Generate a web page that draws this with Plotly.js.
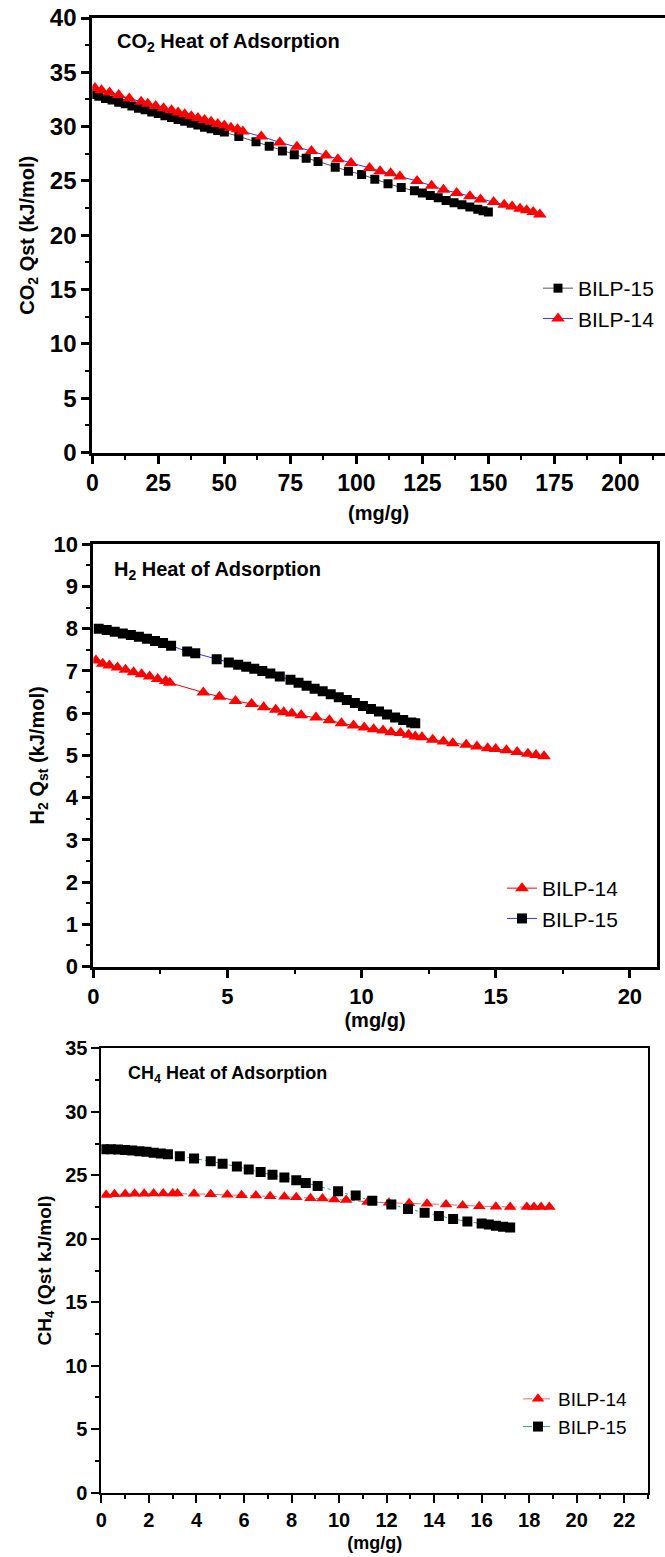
<!DOCTYPE html>
<html>
<head>
<meta charset="utf-8">
<script src="https://cdn.plot.ly/plotly-3.0.1.min.js"></script>
<style>html,body{margin:0;padding:0;background:#fff;}#chart{width:665px;height:1557px;}</style>
</head>
<body>
<div id="chart"></div>
<script>
// ---------- Data: CO2 heat of adsorption ----------
const co2_bilp15_x = [0.5,2.5,5,7.5,10,12.5,15,17.5,20,22.5,25,27.5,30,32.5,35,37.5,40,42.5,45,47.5,50,55.5,62,67,72,76.5,81,85.5,92,97,102,107,112,117,122,125,128,131,134,137,140,143,146,148,150];
const co2_bilp15_y = [32.95,32.8,32.6,32.45,32.25,32.1,31.9,31.7,31.55,31.35,31.2,31.0,30.85,30.65,30.5,30.3,30.15,29.95,29.8,29.65,29.5,29.1,28.6,28.2,27.75,27.4,27.1,26.8,26.25,25.9,25.6,25.15,24.75,24.4,24.1,23.9,23.65,23.45,23.2,23.0,22.8,22.6,22.4,22.25,22.15];
const co2_bilp14_x = [1,3.5,6.5,10,14,18.5,21,24,27,30,32.5,35,37.5,40,42.5,45,47.5,50,52.5,55,57,64,71,77.5,83,88.5,93,98,105,109,113,116.5,123,128.5,133,138,143,147,152,156,159,162,164.5,167,169.5];
const co2_bilp14_y = [33.55,33.35,33.15,32.9,32.6,32.3,32.1,31.9,31.7,31.5,31.3,31.15,30.95,30.8,30.6,30.45,30.25,30.1,29.9,29.75,29.55,29.1,28.55,28.15,27.75,27.35,27.0,26.65,26.2,25.9,25.7,25.4,25.0,24.55,24.2,23.9,23.6,23.3,23.05,22.8,22.65,22.45,22.3,22.15,21.9];

// ---------- Data: H2 heat of adsorption ----------
const h2_bilp14_x = [0.1,0.35,0.6,0.9,1.2,1.5,1.8,2.1,2.4,2.7,2.85,4.1,4.7,5.3,5.9,6.35,6.8,7.1,7.4,7.75,8.3,8.8,9.25,9.7,10.1,10.45,10.8,11.1,11.45,11.75,12.0,12.25,12.65,13.05,13.4,13.9,14.3,14.7,15.0,15.4,15.8,16.2,16.5,16.8];
const h2_bilp14_y = [7.25,7.17,7.13,7.08,7.03,6.97,6.92,6.87,6.81,6.76,6.72,6.49,6.39,6.29,6.22,6.14,6.08,6.02,5.99,5.95,5.9,5.83,5.76,5.71,5.66,5.62,5.59,5.55,5.53,5.49,5.45,5.43,5.37,5.33,5.29,5.25,5.21,5.17,5.15,5.12,5.08,5.04,5.01,4.98];
const h2_bilp15_x = [0.2,0.5,0.8,1.1,1.4,1.7,2.0,2.3,2.6,2.9,3.5,3.8,4.6,5.05,5.4,5.7,6.0,6.3,6.6,6.95,7.35,7.65,7.95,8.25,8.55,8.85,9.15,9.45,9.75,10.05,10.35,10.65,10.95,11.25,11.55,11.85,12.0];
const h2_bilp15_y = [8.0,7.97,7.93,7.89,7.85,7.81,7.76,7.71,7.66,7.6,7.46,7.42,7.28,7.2,7.15,7.1,7.05,7.0,6.94,6.87,6.79,6.72,6.65,6.58,6.52,6.45,6.38,6.31,6.24,6.17,6.1,6.04,5.97,5.9,5.84,5.78,5.76];

// ---------- Data: CH4 heat of adsorption ----------
const ch4_bilp14_x = [0.2,0.55,1.0,1.4,1.8,2.2,2.6,3.0,3.2,3.9,4.6,5.3,5.9,6.5,7.1,7.7,8.2,8.8,9.3,9.8,10.3,11.2,12.1,12.95,13.7,14.5,15.2,15.9,16.6,17.2,17.9,18.2,18.5,18.85];
const ch4_bilp14_y = [23.45,23.5,23.53,23.55,23.55,23.56,23.56,23.56,23.56,23.54,23.5,23.46,23.43,23.4,23.35,23.3,23.27,23.2,23.17,23.1,23.05,22.9,22.83,22.8,22.75,22.7,22.62,22.57,22.52,22.5,22.5,22.5,22.5,22.5];
const ch4_bilp15_x = [0.1,0.4,0.7,1.0,1.3,1.6,1.9,2.2,2.5,2.8,3.3,3.9,4.6,5.1,5.7,6.2,6.7,7.2,7.7,8.2,8.6,9.1,9.96,10.7,11.4,12.2,12.9,13.6,14.2,14.8,15.4,16.0,16.3,16.6,16.9,17.2];
const ch4_bilp15_y = [27.05,27.04,27.02,26.99,26.95,26.9,26.85,26.78,26.72,26.65,26.5,26.33,26.1,25.9,25.7,25.45,25.25,25.05,24.83,24.6,24.4,24.15,23.75,23.4,23.0,22.7,22.35,22.05,21.8,21.55,21.35,21.2,21.12,21.03,20.95,20.88];

// ---------- Axis tick settings ----------
const co2_xticks = {dtick: 25, minor: 12.5};
const co2_yticks = {dtick: 5, minor: 2.5};
const h2_xticks = {dtick: 5, minor: 2.5};
const h2_yticks = {dtick: 1, minor: 0.5};
const ch4_xticks = {dtick: 2, minor: 1};
const ch4_yticks = {dtick: 5, minor: 2.5};

const W = 665, H = 1557;
const FONT = 'Arial, "Liberation Sans", sans-serif';
const px = v => v / W;
const py = v => 1 - v / H;

function sq(size){ return {symbol:'square', size:size, color:'#000'}; }
function tri(size){ return {symbol:'triangle-up', size:size, color:'#ff0000'}; }

const traces = [
  {x: co2_bilp15_x, y: co2_bilp15_y, name:'BILP-15', xaxis:'x', yaxis:'y', legend:'legend',
   mode:'lines+markers', line:{color:'#555555', width:1}, marker:sq(9)},
  {x: co2_bilp14_x, y: co2_bilp14_y, name:'BILP-14', xaxis:'x', yaxis:'y', legend:'legend',
   mode:'lines+markers', line:{color:'#3333ff', width:1}, marker:tri(12)},
  {x: h2_bilp14_x, y: h2_bilp14_y, name:'BILP-14', xaxis:'x2', yaxis:'y2', legend:'legend2',
   mode:'lines+markers', line:{color:'#ff0000', width:1}, marker:tri(12)},
  {x: h2_bilp15_x, y: h2_bilp15_y, name:'BILP-15', xaxis:'x2', yaxis:'y2', legend:'legend2',
   mode:'lines+markers', line:{color:'#3333ff', width:1}, marker:sq(10)},
  {x: ch4_bilp14_x, y: ch4_bilp14_y, name:'BILP-14', xaxis:'x3', yaxis:'y3', legend:'legend3',
   mode:'lines+markers', line:{color:'#ff6666', width:1, dash:'dashdot'}, marker:tri(11)},
  {x: ch4_bilp15_x, y: ch4_bilp15_y, name:'BILP-15', xaxis:'x3', yaxis:'y3', legend:'legend3',
   mode:'lines+markers', line:{color:'#33a0a0', width:1, dash:'dashdot'}, marker:sq(10)}
];

function axis(opts){
  const base = {
    showline:true, linecolor:'#000', linewidth:opts.lw || 3, mirror:opts.mirror,
    ticks:'outside', ticklen:8, tickwidth:opts.lw || 3, tickcolor:'#000',
    showgrid:false, zeroline:false, tick0:0, dtick:opts.t.dtick,
    minor:{dtick:opts.t.minor, ticks:'outside', ticklen:4, tickwidth:2, tickcolor:'#000', showgrid:false},
    tickfont:{family:FONT, size:opts.fs, color:'#000', weight:'bold'},
    range:opts.range, domain:opts.domain, anchor:opts.anchor, automargin:false,
    fixedrange:true
  };
  if(opts.title){ base.title = {text:opts.title, font:{family:FONT, size:opts.tfs, color:'#000', weight:'bold'}, standoff:opts.standoff}; }
  return base;
}

const layout = {
  width: W, height: H,
  margin:{l:0, r:0, t:0, b:0},
  paper_bgcolor:'#fff', plot_bgcolor:'#fff',
  showlegend:true,
  xaxis: axis({t:co2_xticks, range:[0,216.9], domain:[px(92.3),1], anchor:'y', mirror:true, fs:23,
               title:'(mg/g)', tfs:20, standoff:11}),
  yaxis: axis({t:co2_yticks, range:[0,40], domain:[py(452.5),py(18)], anchor:'x', mirror:false, fs:24,
               title:'CO<sub>2</sub> Qst (kJ/mol)', tfs:20, standoff:10}),
  xaxis2: axis({t:h2_xticks, range:[0,21], domain:[px(93.3),px(656.7)], anchor:'y2', mirror:true, fs:22,
               title:'(mg/g)', tfs:20, standoff:0}),
  yaxis2: axis({t:h2_yticks, range:[0,10], domain:[py(966.5),py(544.3)], anchor:'x2', mirror:true, fs:22,
               title:'H<sub>2</sub> Q<sub>st</sub> (kJ/mol)', tfs:20, standoff:4}),
  xaxis3: axis({t:ch4_xticks, range:[0,23], domain:[px(101.4),px(648)], anchor:'y3', mirror:true, fs:20, lw:2,
               title:'(mg/g)', tfs:18, standoff:7}),
  yaxis3: axis({t:ch4_yticks, range:[0,35], domain:[py(1492.7),py(1048.3)], anchor:'x3', mirror:true, fs:20, lw:2,
               title:'CH<sub>4</sub> (Qst kJ/mol)', tfs:19, standoff:9}),
  legend:{x:px(538), y:py(268), xanchor:'left', yanchor:'top', bgcolor:'rgba(0,0,0,0)', borderwidth:0,
          font:{family:FONT, size:21, color:'#000'}, traceorder:'normal', tracegroupgap:0},
  legend2:{x:px(502), y:py(868), xanchor:'left', yanchor:'top', bgcolor:'rgba(0,0,0,0)', borderwidth:0,
          font:{family:FONT, size:21, color:'#000'}, traceorder:'normal', tracegroupgap:0},
  legend3:{x:px(518), y:py(1380), xanchor:'left', yanchor:'top', bgcolor:'rgba(0,0,0,0)', borderwidth:0,
          font:{family:FONT, size:19, color:'#000'}, traceorder:'normal', tracegroupgap:0},
  annotations:[
    {text:'CO<sub>2</sub> Heat of Adsorption', xref:'paper', yref:'paper', x:px(115), y:py(42),
     xanchor:'left', yanchor:'middle', showarrow:false, font:{family:FONT, size:20, color:'#000', weight:'bold'}},
    {text:'H<sub>2</sub> Heat of Adsorption', xref:'paper', yref:'paper', x:px(112), y:py(570),
     xanchor:'left', yanchor:'middle', showarrow:false, font:{family:FONT, size:20, color:'#000', weight:'bold'}},
    {text:'CH<sub>4</sub> Heat of Adsorption', xref:'paper', yref:'paper', x:px(126), y:py(1074),
     xanchor:'left', yanchor:'middle', showarrow:false, font:{family:FONT, size:18, color:'#000', weight:'bold'}}
  ]
};

Plotly.newPlot('chart', traces, layout, {staticPlot:true, displayModeBar:false});
</script>
</body>
</html>
